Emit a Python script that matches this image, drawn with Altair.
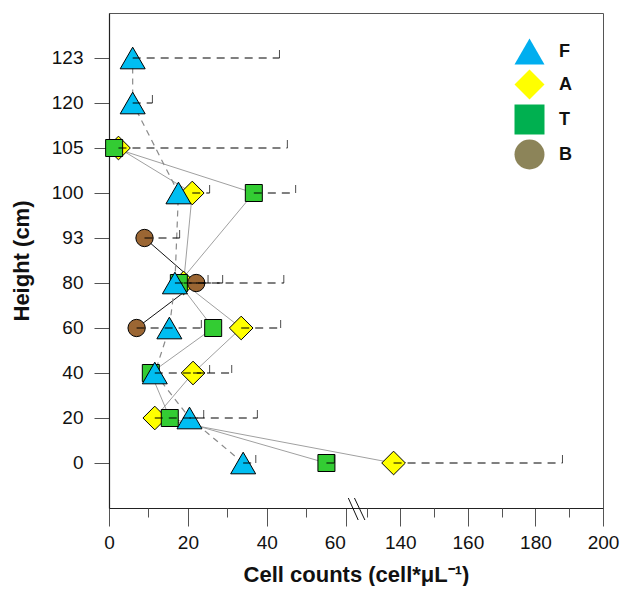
import altair as alt
import pandas as pd

# ---------------- data ----------------
height_levels = [0, 20, 40, 60, 80, 93, 100, 105, 120, 123]

F_heights = [0, 20, 40, 60, 80, 100, 120, 123]
F_values = [34.0, 20.4, 11.6, 15.3, 16.7, 17.6, 6.0, 6.0]
F_err = [37.2, 24.0, 25.5, None, 28.8, None, 11.0, 43.2]

A_heights = [0, 20, 40, 60, 80, 100, 105]
A_values = [138.0, 11.6, 21.3, 33.5, 18.9, 21.1, 2.4]
A_err = [188.0, 37.6, 31.1, 43.5, 44.3, 25.5, 45.2]

T_heights = [0, 20, 40, 60, 80, 100, 105]
T_values = [55.1, 15.4, 10.6, 26.4, 17.7, 36.7, 1.3]
T_err = [57.1, None, None, None, None, 47.3, None]

B_heights = [60, 80, 93]
B_values = [7.0, 22.1, 9.0]
B_err = [23.4, 25.1, 17.9]

x_major = [0, 20, 40, 60, 140, 160, 180, 200]
x_major_labels = ["0", "20", "40", "60", "140", "160", "180", "200"]
x_minor = [10, 30, 50, 130, 150, 170, 190]

series_names = ["F", "A", "T", "B"]
plot_colors = ["#00BEF2", "#FFFF00", "#33CC33", "#9B6633"]
legend_colors = ["#00AEEF", "#FFFF00", "#00B050", "#8C8459"]
shapes = ["triangle-up", "diamond", "square", "circle"]
sizes = [625, 560, 289, 300]

# ---------------- broken x axis ----------------
U140 = 73.83      # transformed position of 140
R = 0.856         # compression of the upper segment
UMAX = U140 + (200 - 140) * R
FONT = "Liberation Sans"


def tr(v):
    return v if v <= 100 else U140 + (v - 140) * R


def tr_expr(f):
    return f"datum.{f} <= 100 ? datum.{f} : {U140} + (datum.{f} - 140) * {R}"


def make_df(name, hs, vs, es):
    return pd.DataFrame({"series": name, "h": hs, "v": vs, "e": es})


dfs = {
    "F": make_df("F", F_heights, F_values, F_err),
    "A": make_df("A", A_heights, A_values, A_err),
    "T": make_df("T", T_heights, T_values, T_err),
    "B": make_df("B", B_heights, B_values, B_err),
}
all_df = pd.concat(list(dfs.values()), ignore_index=True)

xscale = alt.Scale(domain=[0, UMAX], nice=False, zero=False)
yscale = alt.Scale(domain=height_levels[::-1], padding=1)

major_u = [round(tr(v), 4) for v in x_major]
minor_u = [round(tr(v), 4) for v in x_minor]
lab_map = "{" + ",".join(f"'{u}':'{l}'" for u, l in zip(major_u, x_major_labels)) + "}"

major_axis = alt.Axis(
    values=major_u,
    labelExpr=f"{lab_map}[toString(datum.value)]",
    tickSize=18, tickColor="#555", tickWidth=1,
    domainColor="#222", domainWidth=1.2,
    labelFont=FONT, labelFontSize=19, labelColor="#111", labelPadding=7,
    labelFlush=False, labelOverlap=False,
    labelOffset={"condition": {"test": "datum.value == 60", "value": -11}, "value": 0},
    title="Cell counts (cell*\u03bcL\u207b\u00b9)",
    titleFont=FONT, titleFontSize=22, titleFontWeight="bold", titleColor="#111",
    titlePadding=12, grid=False,
)
minor_axis = alt.Axis(
    values=minor_u, tickSize=9, tickColor="#555", tickWidth=1,
    labels=False, domain=False, title=None, grid=False, orient="bottom",
)
y_axis = alt.Axis(
    tickSize=15, tickColor="#555", domainColor="#222", domainWidth=1.2,
    labelFont=FONT, labelFontSize=19, labelColor="#111", labelPadding=11,
    title="Height (cm)", titleFont=FONT, titleFontSize=22, titleFontWeight="bold",
    titleColor="#111", titlePadding=18, grid=False,
)

Y = alt.Y("h:O", scale=yscale, axis=y_axis)


def X(field="u", axis=None):
    return alt.X(f"{field}:Q", scale=xscale, axis=axis)


def base(df):
    return alt.Chart(df).transform_calculate(u=tr_expr("v"), ue=tr_expr("e"))


layers = []

# connecting lines
line_styles = {
    "A": dict(color="#A0A0A0", strokeWidth=1),
    "T": dict(color="#A0A0A0", strokeWidth=1),
    "B": dict(color="#111111", strokeWidth=1),
    "F": dict(color="#8A8A8A", strokeWidth=1.2, strokeDash=[6, 5]),
}
for i, s in enumerate(["A", "T", "B", "F"]):
    layers.append(
        base(dfs[s]).mark_line(**line_styles[s]).encode(
            x=X("u", major_axis if i == 0 else None), y=Y, order="h:Q"
        )
    )

# markers (drawing order A, T, F, B)
for s in ["A", "T", "F", "B"]:
    k = series_names.index(s)
    layers.append(
        base(dfs[s]).mark_point(
            shape=shapes[k], filled=True, fill=plot_colors[k], stroke="black",
            strokeWidth=1, size=sizes[k], opacity=1,
        ).encode(x=X(), y=Y)
    )

# one-sided error bars: dashed line + upward cap
err_base = base(all_df).transform_filter("isValid(datum.e)")
layers.append(
    err_base.mark_rule(color="black", strokeWidth=1, strokeDash=[8, 6]).encode(
        x=X(), x2="ue:Q", y=Y
    )
)
layers.append(
    err_base.mark_tick(color="black", orient="vertical", size=8, thickness=1, yOffset=-4).encode(
        x=X("ue"), y=Y
    )
)

# minor ticks axis + break marks on the x axis
brk = pd.DataFrame({"x0": [60.65, 62.2], "x1": [63.15, 64.85]})
layers.append(
    alt.Chart(brk).mark_rule(color="#111", strokeWidth=1).encode(
        x=X("x0", minor_axis), x2="x1:Q", y=alt.value(485), y2=alt.value(507)
    )
)

# legend (separate colours as in the reference)
leg = alt.Legend(title=None, orient="none", legendX=405, legendY=23,
                 symbolSize=900, symbolStrokeColor="black", symbolStrokeWidth=1,
                 labelFont=FONT, labelFontSize=18, labelFontWeight="bold",
                 labelColor="#111", labelOffset=14, rowPadding=0, padding=0)
leg_df = pd.DataFrame({"series": series_names, "h": [0] * 4, "v": [0.0] * 4})
layers.append(
    alt.Chart(leg_df).transform_filter("false").mark_point(
        stroke="black", strokeWidth=1, opacity=1, fillOpacity=1
    ).encode(
        x=alt.X("v:Q", scale=xscale, axis=None),
        y=Y,
        fill=alt.Fill("series:N", scale=alt.Scale(domain=series_names, range=legend_colors),
                      legend=leg),
        shape=alt.Shape("series:N", scale=alt.Scale(domain=series_names, range=shapes),
                        legend=leg),
    )
)

chart = alt.layer(*layers).resolve_axis(x="independent").properties(
    width=494, height=495,
    autosize=alt.AutoSizeParams(type="none"),
    padding={"left": 101, "top": 5, "right": 17, "bottom": 78},
    background="white",
).configure_view(stroke="#555", strokeWidth=1)

chart.save("out.html", embed_options={"renderer": "svg", "actions": False})
